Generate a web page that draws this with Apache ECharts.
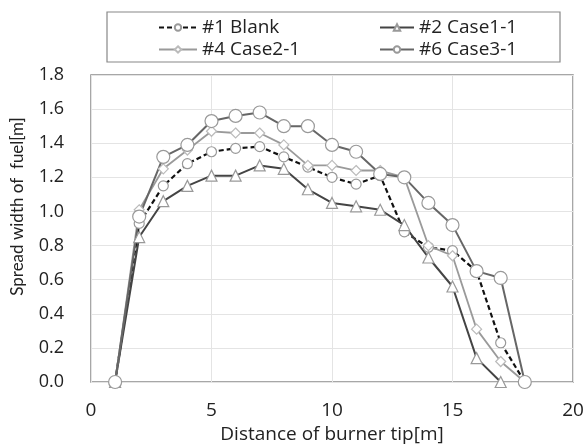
<!DOCTYPE html>
<html>
<head>
<meta charset="utf-8">
<script src="https://cdn.jsdelivr.net/npm/echarts@6/dist/echarts.min.js"></script>
<style>
  html, body { margin: 0; padding: 0; background: #fff; }
  #main { width: 587px; height: 445px; }
</style>
</head>
<body>
<div id="main"></div>
<script>
// distance of burner tip [m]
var distance = [1, 2, 3, 4, 5, 6, 7, 8, 9, 10, 11, 12, 13, 14, 15, 16, 17, 18];

// spread width of fuel [m]
var blank = [0, 0.93, 1.15, 1.28, 1.35, 1.37, 1.38, 1.32, 1.26, 1.20, 1.16, 1.21, 0.88, 0.79, 0.77, 0.65, 0.23, 0];
var case11 = [0, 0.85, 1.06, 1.15, 1.21, 1.21, 1.27, 1.25, 1.13, 1.05, 1.03, 1.01, 0.92, 0.73, 0.56, 0.14, 0];
var case21 = [0, 1.01, 1.25, 1.36, 1.47, 1.46, 1.46, 1.39, 1.27, 1.27, 1.24, 1.24, 1.20, 0.80, 0.74, 0.31, 0.12, 0];
var case31 = [0, 0.97, 1.32, 1.39, 1.53, 1.56, 1.58, 1.50, 1.50, 1.39, 1.35, 1.22, 1.20, 1.05, 0.92, 0.65, 0.61, 0];

var seriesNames = ['#1 Blank', '#2 Case1-1', '#4 Case2-1', '#6 Case3-1'];

function pairs(vals) {
  var out = [];
  for (let i = 0; i < vals.length; i++) {
    out.push([distance[i], vals[i]]);
  }
  return out;
}

var chart = echarts.init(document.getElementById('main'));
var hFont = '"Open Sans", sans-serif';   // horizontal texts
var vFont = 'Lato, sans-serif';          // rotated y axis name

function legendAt(name, left, top, w) {
  return {
    data: [name],
    left: left,
    top: top,
    itemWidth: w,
    itemHeight: 8,
    itemGap: 4,
    textStyle: { fontFamily: hFont, fontSize: 19, color: '#222' }
  };
}

var option = {
  backgroundColor: '#fff',
  animation: false,
  legend: [
    legendAt(seriesNames[0], 153, 13, 38),
    legendAt(seriesNames[1], 374, 13, 34),
    legendAt(seriesNames[2], 153, 35, 38),
    legendAt(seriesNames[3], 374, 35, 34)
  ],
  graphic: [{
    type: 'rect',
    shape: { x: 107, y: 12, width: 453, height: 50 },
    style: { fill: 'none', stroke: '#888', lineWidth: 1.2 }
  }],
  grid: {
    left: 91,
    right: 14,
    top: 75,
    bottom: 63,
    outerBoundsMode: 'none',
    show: true,
    borderColor: '#8a8a8a',
    borderWidth: 1.5
  },
  xAxis: {
    type: 'value',
    min: 0,
    max: 20,
    interval: 5,
    name: 'Distance of burner tip[m]',
    nameLocation: 'middle',
    nameGap: 41,
    nameTextStyle: { fontFamily: hFont, fontSize: 19, color: '#222' },
    axisLine: { show: false },
    axisTick: { show: false },
    axisLabel: { fontFamily: hFont, fontSize: 19, color: '#222', margin: 19 },
    splitLine: { lineStyle: { color: '#e4e4e4', width: 1 } }
  },
  yAxis: {
    type: 'value',
    min: 0,
    max: 1.8,
    interval: 0.2,
    name: 'Spread width of  fuel[m]',
    nameLocation: 'middle',
    nameGap: 65,
    nameTextStyle: { fontFamily: vFont, fontSize: 17, color: '#222', padding: [0, 0, 0, 44] },
    axisLine: { show: false },
    axisTick: { show: false },
    axisLabel: {
      fontFamily: hFont, fontSize: 18, color: '#222', margin: 27,
      formatter: function (v) { return v.toFixed(1); }
    },
    splitLine: { lineStyle: { color: '#e4e4e4', width: 1 } }
  },
  series: [
    {
      name: seriesNames[0],
      type: 'line',
      data: pairs(blank),
      symbol: 'circle',
      symbolSize: 10,
      lineStyle: { color: '#111', width: 2.2, type: [5, 3] },
      itemStyle: { color: '#fff', borderColor: '#999', borderWidth: 1.2 }
    },
    {
      name: seriesNames[1],
      type: 'line',
      data: pairs(case11),
      symbol: 'triangle',
      symbolSize: 11,
      lineStyle: { color: '#444', width: 2 },
      itemStyle: { color: '#fff', borderColor: '#999', borderWidth: 1.2 }
    },
    {
      name: seriesNames[2],
      type: 'line',
      data: pairs(case21),
      symbol: 'diamond',
      symbolSize: 10,
      lineStyle: { color: '#9a9a9a', width: 1.8 },
      itemStyle: { color: '#fff', borderColor: '#bbb', borderWidth: 1.2 }
    },
    {
      name: seriesNames[3],
      type: 'line',
      data: pairs(case31),
      symbol: 'circle',
      symbolSize: 13,
      lineStyle: { color: '#666', width: 2 },
      itemStyle: { color: '#fff', borderColor: '#999', borderWidth: 1.2 }
    }
  ]
};

chart.setOption(option);
</script>
</body>
</html>
